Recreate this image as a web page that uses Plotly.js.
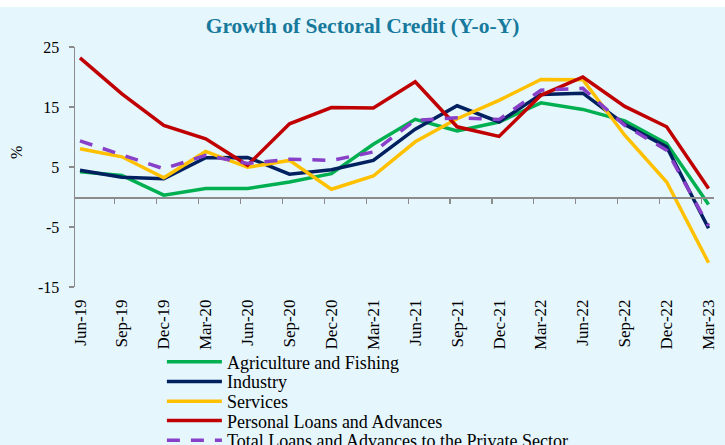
<!DOCTYPE html>
<html>
<head>
<meta charset="utf-8">
<script src="https://cdn.plot.ly/plotly-3.0.1.min.js"></script>
<style>
  html, body { margin: 0; padding: 0; background: #ffffff; }
  #chart { width: 725px; height: 445px; }
</style>
</head>
<body>
<div id="chart"></div>
<script>
var categories = ['Jun-19','Sep-19','Dec-19','Mar-20','Jun-20','Sep-20','Dec-20','Mar-21','Jun-21','Sep-21','Dec-21','Mar-22','Jun-22','Sep-22','Dec-22','Mar-23'];
var agriculture = [4.2, 3.6, 0.3, 1.4, 1.4, 2.5, 3.9, 8.8, 12.95, 11.0, 12.5, 15.7, 14.6, 12.7, 8.9, -1.25];
var industry = [4.45, 3.3, 3.05, 6.55, 6.6, 3.8, 4.55, 6.1, 11.3, 15.2, 12.5, 17.1, 17.3, 12.1, 8.35, -5.2];
var services = [8.05, 6.7, 3.2, 7.6, 4.95, 6.1, 1.3, 3.5, 9.2, 13.05, 16.1, 19.6, 19.55, 10.3, 2.5, -10.95];
var personal = [23.2, 17.2, 11.95, 9.7, 5.3, 12.2, 14.9, 14.85, 19.2, 11.7, 10.1, 16.95, 20.0, 15.1, 11.7, 1.4];
var total = [9.35, 7.1, 4.7, 6.95, 5.6, 6.3, 6.1, 7.5, 12.8, 13.2, 12.9, 17.8, 18.1, 11.95, 7.8, -4.8];
var yTicks = [-15, -5, 5, 15, 25];
var yTickText = ['-15', '-5', '5', '15', '25'];

var serif = 'Liberation Serif, Times New Roman, serif';
var gray = '#8c8c8c';

function series(name, vals, color, legendId, dash) {
  return {
    type: 'scatter', mode: 'lines', name: name,
    x: categories, y: vals, legend: legendId,
    line: {color: color, width: 3.5, dash: dash || 'solid'}
  };
}

var traces = [
  series('Agriculture and Fishing', agriculture, '#00B050', 'legend'),
  series('Industry', industry, '#002060', 'legend2'),
  series('Services', services, '#FFC000', 'legend3'),
  series('Personal Loans and Advances', personal, '#C00000', 'legend4'),
  series('Total Loans and Advances to the Private Sector', total, '#8840C8', 'legend5', '13px,11px'),
  {type: 'scatter', mode: 'lines', x: [], y: [], xaxis: 'x2', showlegend: false, hoverinfo: 'skip'}
];

var boundaryTicks = categories.slice(1).map(function (c, i) { return i + 1 - 0.17; });

function legendAt(y) {
  return {
    orientation: 'v',
    x: 0.136, xanchor: 'left',
    y: y, yanchor: 'middle',
    bgcolor: 'rgba(0,0,0,0)',
    font: {family: serif, size: 18, color: '#000000'},
    itemwidth: 55
  };
}

var layout = {
  width: 725, height: 445,
  paper_bgcolor: '#E5F6FD',
  plot_bgcolor: 'rgba(0,0,0,0)',
  margin: {l: 75, r: 11, t: 47, b: 158, pad: 0, autoexpand: false},
  showlegend: true,
  title: {
    text: '<b>Growth of Sectoral Credit (Y-o-Y)</b>',
    font: {family: serif, size: 21.5, color: '#17799B'},
    x: 0.5, xref: 'container', y: 0.942, yref: 'container', yanchor: 'middle'
  },
  xaxis: {
    type: 'category',
    range: [-0.119, 15.13],
    showline: false, showgrid: false, zeroline: false,
    ticks: '', tickangle: -90,
    ticklabelstandoff: 8,
    tickfont: {family: serif, size: 17, color: '#000000'}
  },
  xaxis2: {
    overlaying: 'x', anchor: 'free', position: 0.375,
    type: 'linear', range: [-0.119, 15.13],
    showline: true, linecolor: gray, linewidth: 1.5,
    showgrid: false, zeroline: false,
    tickmode: 'array', tickvals: boundaryTicks,
    ticks: 'outside', ticklen: 5, tickcolor: gray, tickwidth: 1.2,
    showticklabels: false
  },
  yaxis: {
    range: [-15, 25],
    tickmode: 'array', tickvals: yTicks, ticktext: yTickText,
    showline: true, linecolor: gray, linewidth: 1.5,
    ticks: 'outside', ticklen: 5, tickcolor: gray, tickwidth: 1.2,
    showgrid: false, zeroline: false,
    ticklabelstandoff: 6,
    tickfont: {family: serif, size: 16, color: '#000000'}
  },
  legend: legendAt(-0.3125),
  legend2: legendAt(-0.3946),
  legend3: legendAt(-0.477),
  legend4: legendAt(-0.558),
  legend5: legendAt(-0.6396),
  shapes: [{
    type: 'rect', xref: 'paper', yref: 'paper',
    x0: -0.2, x1: 1.1, y0: 1.1667, y1: 1.25,
    fillcolor: '#ffffff', line: {width: 0}, layer: 'below'
  }],
  annotations: [{
    text: '%', xref: 'paper', yref: 'paper',
    x: -0.108, y: 0.56, showarrow: false, textangle: -90,
    font: {family: serif, size: 16, color: '#000000'}
  }]
};

Plotly.newPlot('chart', traces, layout, {displayModeBar: false, staticPlot: true});
</script>
</body>
</html>
